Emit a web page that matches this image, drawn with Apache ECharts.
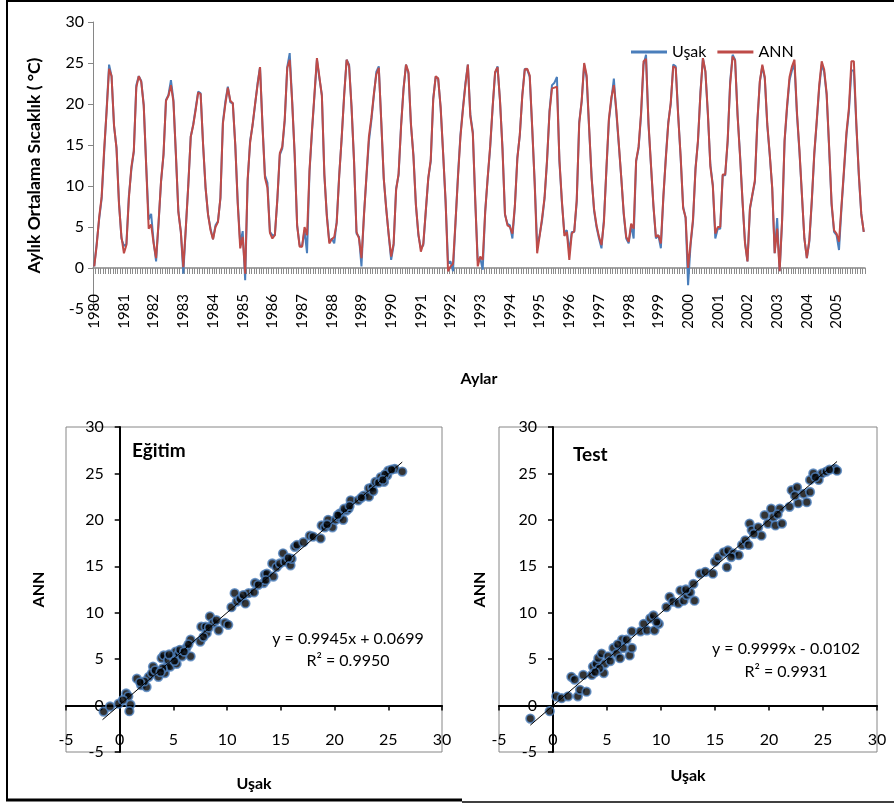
<!DOCTYPE html>
<html>
<head>
<meta charset="utf-8">
<title>Uşak - ANN</title>
<script src="https://cdn.jsdelivr.net/npm/echarts@6/dist/echarts.min.js"></script>
<style>
  html, body { margin: 0; padding: 0; background: #fff; }
  #chart { width: 894px; height: 805px; }
</style>
</head>
<body>
<div id="chart"></div>
<script>
// monthly mean temperature, Jan 1980 - Dec 2005 (one row per year)
const years = [1980, 1981, 1982, 1983, 1984, 1985, 1986, 1987, 1988, 1989, 1990, 1991, 1992,
               1993, 1994, 1995, 1996, 1997, 1998, 1999, 2000, 2001, 2002, 2003, 2004, 2005];

const usak = [
    0.2, 3.0, 6.0, 8.5, 14.0, 19.3, 24.8, 23.4, 17.3, 14.7, 8.0, 3.6,
    2.7, 2.9, 8.8, 12.0, 14.2, 22.3, 23.4, 22.8, 19.9, 12.5, 5.9, 6.6,
    3.2, 0.8, 5.5, 10.5, 13.8, 20.5, 21.1, 22.9, 20.5, 13.8, 6.9, 4.4,
    -0.7, 4.8, 10.1, 16.0, 17.5, 19.5, 21.5, 21.3, 15.0, 9.7, 6.5, 4.8,
    3.5, 5.2, 5.7, 8.5, 17.8, 20.3, 22.1, 20.2, 20.1, 15.0, 8.0, 3.0,
    4.5, -1.5, 10.5, 15.5, 17.4, 19.9, 22.5, 24.5, 17.4, 11.3, 10.4, 4.4,
    4.0, 4.0, 8.3, 13.8, 14.6, 18.0, 24.5, 26.2, 20.3, 13.8, 5.2, 2.8,
    2.6, 4.6, 1.8, 11.7, 16.6, 21.0, 25.4, 23.1, 21.1, 11.3, 6.5, 3.2,
    3.6, 3.0, 5.7, 11.3, 15.8, 21.1, 25.4, 24.8, 19.5, 13.0, 4.2, 3.8,
    0.2, 6.5, 11.0, 15.4, 18.0, 21.0, 23.9, 24.6, 17.8, 10.9, 7.3, 4.0,
    1.0, 2.8, 9.7, 11.3, 17.4, 21.9, 24.8, 23.7, 17.4, 13.8, 7.7, 4.0,
    2.4, 2.8, 6.9, 10.9, 13.0, 20.7, 23.3, 23.1, 19.5, 14.0, 8.0, 0.6,
    0.8, -0.4, 5.5, 11.3, 16.2, 19.5, 22.5, 24.8, 18.7, 16.6, 8.0, 0.9,
    1.2, -0.2, 6.9, 10.9, 14.6, 19.5, 23.7, 24.6, 20.3, 14.6, 6.5, 5.4,
    5.2, 3.6, 7.5, 13.5, 16.2, 21.1, 24.3, 24.2, 23.3, 17.0, 10.5, 2.8,
    4.0, 5.8, 8.5, 13.0, 19.2, 22.3, 22.6, 23.3, 13.0, 8.0, 4.3, 4.6,
    2.0, 4.4, 4.4, 8.1, 17.8, 20.3, 24.8, 23.2, 17.0, 11.2, 7.0, 5.0,
    3.6, 2.4, 6.0, 12.0, 18.0, 20.5, 23.1, 18.9, 15.0, 11.0, 6.5, 3.6,
    3.0, 5.2, 3.6, 13.0, 14.6, 18.7, 24.8, 26.0, 17.5, 12.5, 7.5, 3.6,
    4.0, 2.4, 8.5, 13.5, 17.8, 20.0, 24.8, 24.6, 18.7, 13.4, 7.5, 6.1,
    -2.1, 2.8, 5.7, 12.2, 15.4, 21.5, 25.6, 23.9, 18.7, 12.6, 10.1, 3.6,
    4.8, 4.8, 11.3, 11.3, 15.4, 22.7, 26.0, 25.4, 18.7, 13.8, 8.1, 3.2,
    0.8, 7.2, 8.9, 10.5, 17.8, 22.7, 24.6, 23.1, 17.4, 13.8, 9.7, 1.8,
    6.1, -0.4, 5.7, 15.4, 19.5, 22.9, 24.1, 24.8, 18.7, 14.2, 8.9, 3.6,
    1.2, 3.2, 8.1, 13.8, 17.8, 22.0, 24.8, 23.9, 21.1, 14.6, 7.7, 4.4,
    4.0, 2.2, 7.3, 11.7, 16.2, 19.1, 24.1, 24.1, 17.4, 11.3, 6.5, 4.4
];

const ann = [
    0.2, 2.8, 6.2, 8.7, 14.4, 19.1, 24.3, 23.4, 17.4, 14.6, 7.8, 3.8,
    1.8, 2.8, 8.5, 12.3, 14.3, 22.0, 23.4, 22.7, 19.8, 12.4, 4.8, 5.3,
    3.0, 1.2, 5.5, 10.6, 13.9, 20.4, 21.0, 22.3, 20.3, 13.9, 6.8, 4.4,
    0.1, 4.8, 10.0, 16.0, 17.4, 19.3, 21.4, 21.2, 15.0, 9.8, 6.5, 4.6,
    3.5, 5.0, 5.6, 8.6, 17.6, 20.0, 22.0, 20.4, 20.1, 15.0, 7.8, 2.4,
    3.8, -0.7, 10.8, 15.3, 17.5, 20.0, 22.3, 24.5, 17.3, 11.0, 9.8, 4.3,
    3.6, 4.0, 8.4, 14.0, 14.8, 18.2, 24.4, 25.4, 20.2, 13.9, 5.2, 2.6,
    2.6, 5.0, 4.0, 11.9, 16.8, 21.2, 25.6, 23.3, 21.0, 11.5, 6.3, 3.0,
    3.5, 3.8, 5.5, 11.2, 15.9, 21.0, 25.4, 24.6, 19.6, 13.0, 4.4, 3.6,
    1.2, 6.3, 11.2, 16.0, 18.3, 21.2, 23.6, 24.4, 17.9, 11.0, 7.2, 4.1,
    1.4, 3.0, 9.5, 11.5, 17.2, 21.8, 24.8, 23.9, 17.6, 13.6, 7.7, 4.2,
    2.0, 3.0, 7.0, 11.0, 13.2, 20.5, 23.4, 23.1, 19.6, 14.0, 8.2, -0.4,
    0.2, 0.5, 5.6, 11.0, 16.0, 19.3, 22.3, 24.8, 18.5, 16.4, 8.2, 0.2,
    1.4, 1.0, 6.8, 11.0, 14.8, 19.6, 23.9, 24.5, 20.4, 14.4, 6.6, 5.2,
    5.0, 4.2, 7.6, 13.3, 16.3, 21.0, 24.2, 24.3, 23.5, 17.2, 10.3, 1.8,
    3.9, 6.1, 8.6, 13.2, 19.0, 21.9, 22.0, 22.1, 13.2, 8.2, 3.9, 4.4,
    1.0, 4.2, 4.5, 8.3, 17.6, 20.4, 25.0, 23.5, 17.2, 11.0, 7.2, 5.2,
    3.8, 2.8, 5.6, 12.2, 18.2, 20.8, 22.3, 19.3, 15.2, 11.0, 6.7, 3.8,
    3.2, 5.4, 4.8, 13.1, 14.8, 18.9, 25.2, 25.5, 17.7, 12.6, 7.6, 3.8,
    4.0, 3.0, 8.7, 13.3, 17.6, 20.2, 24.6, 24.4, 18.5, 13.6, 7.3, 6.2,
    0.0, 3.0, 6.0, 12.0, 15.6, 21.3, 25.6, 24.0, 18.9, 12.4, 10.0, 4.2,
    5.0, 5.0, 11.4, 11.4, 15.6, 22.4, 25.8, 25.3, 18.6, 13.6, 8.2, 3.0,
    0.8, 7.3, 9.0, 10.7, 17.9, 22.8, 24.8, 23.3, 17.6, 13.9, 9.8, 1.8,
    4.8, -0.4, 5.9, 15.6, 19.8, 23.3, 24.6, 25.4, 19.0, 14.4, 9.0, 3.6,
    1.2, 3.4, 8.3, 14.0, 18.0, 22.3, 25.2, 24.2, 21.3, 14.8, 7.9, 4.6,
    4.2, 3.2, 7.6, 12.0, 16.5, 19.5, 25.2, 25.2, 17.6, 11.5, 6.6, 4.4
];

// scatter: training set (Eğitim), observed vs ANN
const eduUsak = [-1.5, -0.9, -0.1, 0.6, 0.8, 1.0, 0.9, 0.3, 1.6, 2.0, 2.5, 2.7, 3.1, 3.0, 3.6, 3.9, 4.1, 4.2, 4.4, 4.5,
    4.7, 5.0, 5.2, 5.3, 5.5, 5.8, 6.2, 6.6, 6.6, 7.5, 7.6, 8.0, 8.1, 8.4, 8.7, 9.0, 9.2, 9.8, 10.1, 10.4,
    10.7, 10.9, 11.2, 11.7, 12.0, 12.5, 12.6, 13.4, 13.5, 13.7, 14.2, 14.3, 14.6, 14.9, 15.2, 15.4, 15.9, 16.0, 16.3, 16.5,
    17.1, 17.7, 18.0, 18.7, 18.8, 19.1, 19.4, 19.8, 20.1, 20.4, 20.5, 20.8, 21.1, 21.5, 21.3, 22.2, 22.7, 23.2, 23.2, 23.5,
    23.8, 24.3, 24.6, 24.9, 25.0, 25.6, 26.3, 2.3, 3.3, 4.0, 4.6, 5.1, 5.6, 6.4, 7.8, 11.5, 12.9, 15.7, 19.3, 20.3,
    20.9, 21.4, 22.5, 23.6, 24.1, 24.7, 25.3, 24.5, 6.0, 1.9, 3.8, 13.6, 8.3];
const eduAnn = [-0.65, -0.1, 0.2, 1.3, 1.0, 0.1, -0.6, 0.6, 2.9, 2.2, 2.0, 3.1, 4.2, 3.5, 3.1, 5.1, 5.4, 3.5, 4.2, 4.9,
    4.2, 5.3, 5.8, 4.5, 5.6, 5.3, 6.2, 7.1, 5.3, 6.9, 8.5, 8.5, 7.8, 9.6, 8.9, 9.2, 8.1, 8.9, 8.7, 10.6,
    12.1, 11.2, 11.5, 11.0, 12.1, 12.2, 13.2, 13.2, 14.1, 14.2, 15.3, 13.9, 14.9, 15.3, 16.4, 15.5, 15.1, 15.8, 17.1, 17.3,
    17.6, 18.3, 18.2, 18.0, 19.4, 19.2, 20.0, 19.2, 20.0, 20.3, 20.7, 20.0, 21.0, 22.1, 21.2, 22.1, 22.6, 23.4, 22.5, 23.5,
    24.1, 24.6, 24.1, 24.8, 25.3, 25.5, 25.2, 2.6, 3.8, 4.0, 5.5, 4.8, 6.0, 6.6, 7.4, 11.9, 13.0, 15.9, 19.5, 20.5,
    21.2, 21.5, 22.4, 23.1, 24.0, 24.9, 25.4, 24.3, 5.8, 2.5, 3.6, 13.5, 8.4];

// scatter: test set
const testUsak = [-2.1, -0.3, 0.3, 0.8, 1.4, 1.7, 2.0, 2.3, 2.5, 2.8, 3.1, 3.6, 3.7, 4.0, 4.2, 4.5, 4.7, 4.8, 5.1, 5.6,
    5.9, 6.2, 6.4, 6.5, 6.8, 7.1, 7.3, 7.3, 8.1, 8.4, 8.7, 9.0, 9.3, 9.4, 9.8, 10.5, 10.8, 11.1, 11.6, 11.8,
    12.1, 12.4, 12.7, 13.0, 13.1, 13.6, 14.1, 14.8, 15.0, 15.3, 15.8, 16.1, 16.2, 16.7, 17.2, 17.5, 17.8, 18.1, 18.2, 18.4,
    19.0, 19.3, 19.6, 19.9, 20.2, 20.4, 20.6, 21.0, 21.2, 21.9, 22.1, 22.6, 22.7, 23.2, 23.5, 23.8, 23.8, 24.1, 24.6, 24.9,
    25.3, 26.1, 26.3, 4.3, 5.3, 6.0, 9.6, 12.3, 16.5, 20.8, 24.3, 25.6, 22.4, 18.6, 3.9];
const testAnn = [-1.4, -0.6, 1.0, 0.8, 1.0, 3.1, 2.8, 1.0, 1.7, 3.3, 1.5, 3.3, 4.2, 4.5, 5.1, 5.6, 3.5, 4.5, 5.3, 6.2,
    5.6, 5.1, 7.1, 6.2, 7.1, 5.4, 6.2, 8.0, 8.0, 8.8, 8.1, 9.4, 9.7, 8.1, 8.8, 10.6, 11.7, 11.2, 11.0, 12.4,
    11.3, 11.9, 12.2, 13.1, 11.3, 14.2, 14.4, 14.2, 15.5, 16.0, 16.5, 14.9, 16.7, 16.4, 16.2, 17.3, 17.8, 17.3, 19.6, 18.9,
    19.2, 18.3, 20.5, 19.6, 21.2, 20.3, 19.4, 21.2, 19.6, 21.4, 23.2, 23.5, 21.8, 22.8, 21.9, 23.0, 24.3, 25.0, 24.3, 25.0,
    25.2, 25.5, 25.3, 4.0, 4.8, 6.6, 9.0, 12.5, 16.0, 20.6, 24.6, 25.4, 22.6, 18.5, 3.6];

// trend lines as printed on the chart: [slope, intercept], x range
const eduFit = [0.9945, 0.0699];
const eduRange = [-1.6, 26.3];
const testFit = [0.9999, -0.0102];
const testRange = [-2.1, 26.3];

const months = [];
years.forEach(y => {
    for (let m = 1; m <= 12; m++) months.push(y + '-' + m);
});

function pairs(xs, ys) {
    return xs.map((x, i) => [x, ys[i]]);
}

function fitLine(fit, range) {
    return range.map(x => [x, fit[0] * x + fit[1]]);
}

const FONT = 'Lato';
const BLUE = '#4A7EBB';
const RED = '#BE4B48';
const GREY = '#868686';

const nameStyle = { fontWeight: 'bold', fontSize: 16, color: '#000', fontFamily: FONT };
const labelStyle = { fontSize: 16, color: '#000', fontFamily: FONT };

// axes of the scatter panels sit on the zero lines: shift them from the grid edge
function scatterX(gridIndex, height, gap) {
    return {
        type: 'value', gridIndex: gridIndex, min: -5, max: 30, interval: 5,
        position: 'bottom', offset: -height * 5 / 35,
        axisLine: { onZero: false, lineStyle: { color: '#000', width: 2 } },
        axisTick: { length: 5, lineStyle: { color: '#000', width: 1.5 } },
        splitLine: { show: false },
        axisLabel: Object.assign({ margin: 26 }, labelStyle),
        name: 'Uşak', nameLocation: 'middle', nameGap: gap, nameTextStyle: nameStyle
    };
}

function scatterY(gridIndex, width, gap) {
    return {
        type: 'value', gridIndex: gridIndex, min: -5, max: 30, interval: 5,
        position: 'left', offset: -width * 5 / 35,
        axisLine: { onZero: false, lineStyle: { color: '#000', width: 2 } },
        axisTick: { length: 5, lineStyle: { color: '#000', width: 1.5 } },
        splitLine: { show: false },
        axisLabel: Object.assign({ margin: 16 }, labelStyle),
        name: 'ANN', nameLocation: 'middle', nameGap: gap, nameTextStyle: nameStyle
    };
}

const dotStyle = { color: '#000', borderColor: '#4F81BD', borderWidth: 1.8 };

const option = {
    animation: false,
    backgroundColor: '#fff',
    textStyle: { fontFamily: FONT },
    legend: {
        data: ['Uşak', 'ANN'],
        left: 631, top: 44, padding: 0,
        icon: 'rect', itemWidth: 36, itemHeight: 3, itemGap: 11,
        textStyle: { fontSize: 16, color: '#000', fontFamily: FONT }
    },
    grid: [
        { left: 93, top: 22, width: 772, height: 287, outerBoundsMode: 'none' },
        { left: 66, top: 427, width: 376, height: 325, outerBoundsMode: 'none',
          show: true, borderColor: GREY, borderWidth: 1, backgroundColor: 'transparent' },
        { left: 499, top: 427, width: 378, height: 325, outerBoundsMode: 'none',
          show: true, borderColor: GREY, borderWidth: 1, backgroundColor: 'transparent' }
    ],
    xAxis: [
        {
            type: 'category', gridIndex: 0, data: months, boundaryGap: true,
            position: 'bottom', offset: -287 * 5 / 35,
            axisLine: { onZero: false, lineStyle: { color: GREY, width: 1.5 } },
            axisTick: { show: true, interval: 0, length: 6, lineStyle: { color: '#8c8c8c', width: 1 } },
            axisLabel: Object.assign({ interval: 11, rotate: 90, margin: 26, formatter: v => v.slice(0, 4) }, labelStyle, { fontSize: 15 }),
            name: 'Aylar', nameLocation: 'middle', nameGap: 103, nameTextStyle: nameStyle
        },
        scatterX(1, 325, 70),
        scatterX(2, 325, 62)
    ],
    yAxis: [
        {
            type: 'value', gridIndex: 0, min: -5, max: 30, interval: 5,
            axisLine: { show: true, onZero: false, lineStyle: { color: GREY } },
            axisTick: { show: true, length: 5, lineStyle: { color: GREY } },
            splitLine: { show: false },
            axisLabel: Object.assign({ margin: 9 }, labelStyle),
            name: 'Aylık Ortalama Sıcaklık ( °C)', nameLocation: 'middle', nameGap: 50,
            nameTextStyle: Object.assign({}, nameStyle, { fontSize: 17.5 })
        },
        scatterY(1, 376, 73),
        scatterY(2, 378, 65)
    ],
    series: [
        {
            name: 'Uşak', type: 'line', xAxisIndex: 0, yAxisIndex: 0, data: usak,
            symbol: 'none', color: BLUE, lineStyle: { color: BLUE, width: 2 }
        },
        {
            name: 'ANN', type: 'line', xAxisIndex: 0, yAxisIndex: 0, data: ann,
            symbol: 'none', color: RED, lineStyle: { color: RED, width: 2 }
        },
        {
            type: 'scatter', xAxisIndex: 1, yAxisIndex: 1, data: pairs(eduUsak, eduAnn),
            symbolSize: 8.5, itemStyle: dotStyle
        },
        {
            type: 'line', xAxisIndex: 1, yAxisIndex: 1, data: fitLine(eduFit, eduRange),
            symbol: 'none', z: 5, lineStyle: { color: '#000', width: 1 }
        },
        {
            type: 'scatter', xAxisIndex: 2, yAxisIndex: 2, data: pairs(testUsak, testAnn),
            symbolSize: 8.5, itemStyle: dotStyle
        },
        {
            type: 'line', xAxisIndex: 2, yAxisIndex: 2, data: fitLine(testFit, testRange),
            symbol: 'none', z: 5, lineStyle: { color: '#000', width: 1 }
        }
    ],
    graphic: [
        // outer frame
        { type: 'line', shape: { x1: 7, y1: 1, x2: 894, y2: 1 }, style: { stroke: '#000', lineWidth: 2 } },
        { type: 'line', shape: { x1: 7, y1: 0, x2: 7, y2: 801 }, style: { stroke: '#000', lineWidth: 2 } },
        { type: 'line', shape: { x1: 6, y1: 800, x2: 462, y2: 800 }, style: { stroke: '#000', lineWidth: 3 } },
        { type: 'line', shape: { x1: 462, y1: 802, x2: 894, y2: 802 }, style: { stroke: '#000', lineWidth: 1.5 } },
        // panel titles and fit equations
        { type: 'text', style: { text: 'Eğitim', x: 132, y: 451, verticalAlign: 'middle', font: 'bold 19px Lato', fill: '#000' } },
        { type: 'text', style: { text: 'Test', x: 573, y: 455, verticalAlign: 'middle', font: 'bold 19px Lato', fill: '#000' } },
        { type: 'text', style: { text: 'y = 0.9945x + 0.0699', x: 348, y: 639, align: 'center', verticalAlign: 'middle', font: '16px Lato', fill: '#000' } },
        { type: 'text', style: { text: 'R² = 0.9950', x: 348, y: 661, align: 'center', verticalAlign: 'middle', font: '16px Lato', fill: '#000' } },
        { type: 'text', style: { text: 'y = 0.9999x - 0.0102', x: 786, y: 649, align: 'center', verticalAlign: 'middle', font: '16px Lato', fill: '#000' } },
        { type: 'text', style: { text: 'R² = 0.9931', x: 786, y: 672, align: 'center', verticalAlign: 'middle', font: '16px Lato', fill: '#000' } }
    ]
};

const chart = echarts.init(document.getElementById('chart'));
chart.setOption(option);

window.addEventListener('resize', () => {
    chart.resize();
});
</script>
</body>
</html>
